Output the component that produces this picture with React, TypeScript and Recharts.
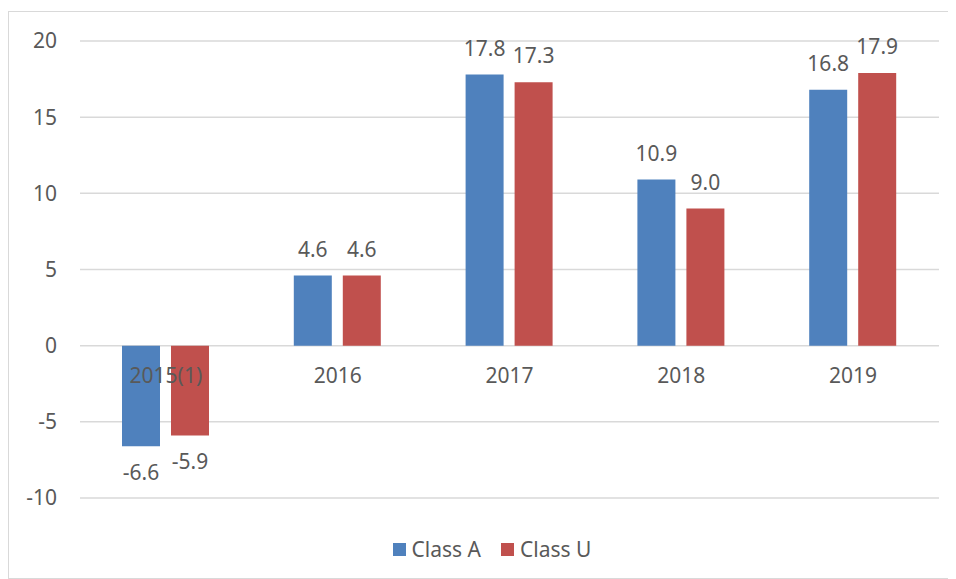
import React from 'react';
import { BarChart, Bar, XAxis, YAxis, CartesianGrid, LabelList, Legend, ReferenceDot } from 'recharts';

const categories = ['2015(1)', '2016', '2017', '2018', '2019'];
const classA = [-6.6, 4.6, 17.8, 10.9, 16.8];
const classU = [-5.9, 4.6, 17.3, 9.0, 17.9];
const yTicks = [-10, -5, 0, 5, 10, 15, 20];

const data = categories.map((c, i) => ({ name: c, a: classA[i], u: classU[i] }));

const FONT = '"Noto Sans", sans-serif';
const TEXT = '#595959';
const BLUE = '#4F81BD';
const RED = '#C0504D';

const LegendContent = () => (
  <div style={{ display: 'flex', justifyContent: 'center', alignItems: 'center', paddingLeft: 20, fontFamily: FONT, fontSize: 21, color: TEXT, lineHeight: '24px' }}>
    <span style={{ display: 'inline-block', width: 13, height: 13, background: BLUE, marginRight: 6 }} />
    <span style={{ marginRight: 20 }}>Class A</span>
    <span style={{ display: 'inline-block', width: 13, height: 13, background: RED, marginRight: 6 }} />
    <span>Class U</span>
  </div>
);

const fmt = (v: number) => v.toFixed(1);

export default function App() {
  return (
    <div style={{ marginTop: 3, width: 946, height: 566, border: '1px solid #d9d9d9', position: 'relative' }}>
      <BarChart width={946} height={566} data={data} margin={{ top: 29, right: 16, bottom: 56, left: 0 }} barSize={38} barGap={11}>
        <CartesianGrid vertical={false} stroke="#d9d9d9" strokeWidth={1.5} />
        <XAxis dataKey="name" hide />
        <YAxis
          width={71}
          domain={[-10, 20]}
          ticks={yTicks}
          axisLine={false}
          tickLine={false}
          tickSize={0}
          tickMargin={23}
          tick={{ fill: TEXT, fontSize: 21, fontFamily: FONT }}
        />
        <Bar dataKey="a" name="Class A" fill={BLUE} isAnimationActive={false}>
          <LabelList dataKey="a" position="top" offset={19} formatter={fmt} fill={TEXT} fontSize={21} fontFamily={FONT} />
        </Bar>
        <Bar dataKey="u" name="Class U" fill={RED} isAnimationActive={false}>
          <LabelList dataKey="u" position="top" offset={19} formatter={fmt} fill={TEXT} fontSize={21} fontFamily={FONT} />
        </Bar>
        {categories.map((c) => (
          <ReferenceDot
            key={c}
            x={c}
            y={0}
            r={0}
            fill="none"
            stroke="none"
            label={{ value: c, position: 'bottom', offset: 22, fill: TEXT, fontSize: 21, fontFamily: FONT }}
          />
        ))}
        <Legend content={<LegendContent />} wrapperStyle={{ position: 'absolute', top: 525, left: 0, width: 946 }} />
      </BarChart>
    </div>
  );
}
